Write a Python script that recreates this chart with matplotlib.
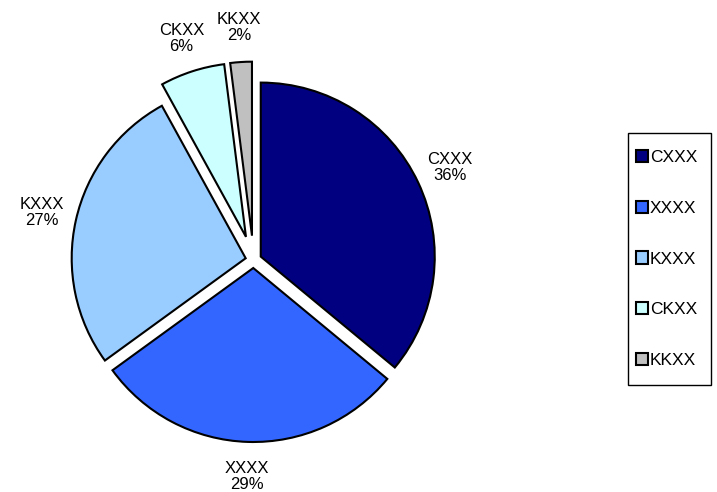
import matplotlib.pyplot as plt
from matplotlib.patches import Patch, Rectangle

plt.rcParams['font.family'] = ['Liberation Sans', 'DejaVu Sans']

categories = ["CXXX", "XXXX", "KXXX", "CKXX", "KKXX"]
shares = [36, 29, 27, 6, 2]
colors = ["#000080", "#3366FF", "#99CCFF", "#CCFFFF", "#C0C0C0"]
explode = [0.046, 0.046, 0.046, 0.14, 0.14]

W, H = 717, 492
fig = plt.figure(figsize=(W / 100, H / 100), dpi=100)
ax = fig.add_axes([0, 0, 1, 1])

# pie centre and radius in pixels
cx, cy, r = 253.5, 232.0, 174.0

labels = [f"{c}\n{s}%" for c, s in zip(categories, shares)]
wedges, texts = ax.pie(shares, labels=labels, colors=colors, explode=explode,
                       startangle=90, counterclock=False, labeldistance=1.2,
                       wedgeprops=dict(edgecolor="black", linewidth=1.5),
                       textprops=dict(fontsize=12))
for t in texts:
    t.set_ha("center")
    t.set_va("center")
    t.set_linespacing(1.1)

ax.set_xlim(-cx / r, (W - cx) / r)
ax.set_ylim(-cy / r, (H - cy) / r)
ax.set_aspect("auto")
ax.axis("off")

# legend box drawn separately so its padding can match
fig.patches.append(Rectangle((628 / W, 1 - 385 / H), (711 - 628) / W, (385 - 133) / H,
                             transform=fig.transFigure, facecolor="white",
                             edgecolor="black", linewidth=1.0, zorder=1))
handles = [Patch(facecolor=c, edgecolor="black", linewidth=1.5) for c in colors]
leg = fig.legend(handles, categories, loc="upper left",
                 bbox_to_anchor=(636 / W, 1 - 150 / H),
                 frameon=False, fontsize=12.5,
                 handlelength=0.7, handleheight=0.7,
                 handletextpad=0.1, labelspacing=2.05, borderpad=0,
                 borderaxespad=0)
leg.set_zorder(2)

fig.savefig("out.png", dpi=100)
